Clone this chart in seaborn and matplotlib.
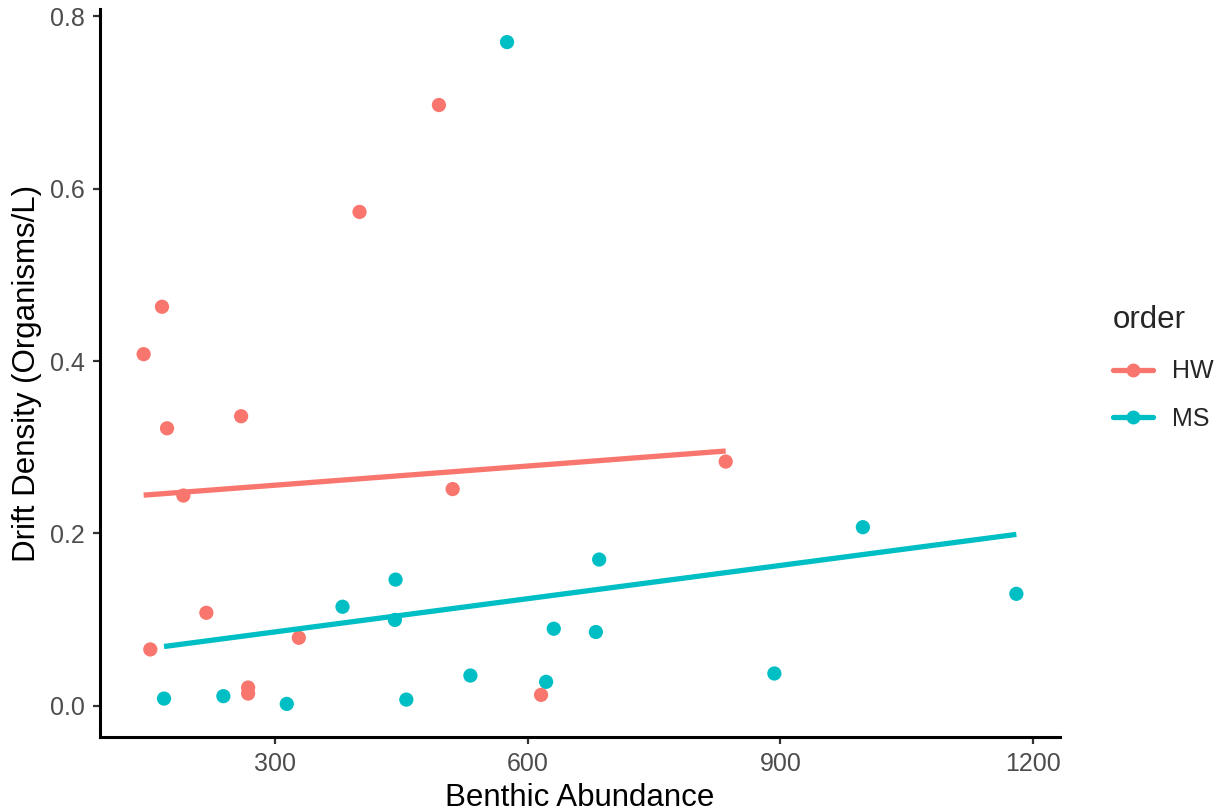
import numpy as np
import pandas as pd
import seaborn as sns
import matplotlib.pyplot as plt
from matplotlib.lines import Line2D

# Benthic abundance vs drift density, by order
hw_benthic = [143.8, 165.6, 171.6, 191.0, 218.3, 151.7, 259.6, 267.9, 267.9,
              328.1, 400.2, 494.5, 510.8, 615.8, 835.1]
hw_drift = [0.408, 0.463, 0.322, 0.244, 0.108, 0.0655, 0.336, 0.0213, 0.0143,
            0.079, 0.573, 0.697, 0.2515, 0.0128, 0.2834]
ms_benthic = [168.0, 238.5, 313.8, 380.0, 443.0, 442.2, 455.8, 531.9, 575.4,
              621.8, 630.9, 680.9, 684.8, 892.9, 998.0, 1180.3]
ms_drift = [0.0085, 0.0113, 0.0023, 0.115, 0.1465, 0.0997, 0.0073, 0.0352, 0.770,
            0.0279, 0.0895, 0.0857, 0.1698, 0.0376, 0.2073, 0.130]
orders = ["HW", "MS"]
order_colors = ["#F8766D", "#00BFC4"]
x_ticks = [300, 600, 900, 1200]
y_ticks = [0.0, 0.2, 0.4, 0.6, 0.8]

df = pd.DataFrame({
    "benthic": hw_benthic + ms_benthic,
    "drift": hw_drift + ms_drift,
    "order": ["HW"] * len(hw_benthic) + ["MS"] * len(ms_benthic),
})
palette = dict(zip(orders, order_colors))

sns.set_style("ticks")
plt.rcParams["font.family"] = ["Liberation Sans", "DejaVu Sans"]

W, H = 1223, 811
fig = plt.figure(figsize=(W / 100, H / 100), dpi=100)
ax = fig.add_axes([100 / W, (H - 737) / H, 960 / W, 728 / H])

sns.scatterplot(data=df, x="benthic", y="drift", hue="order", palette=palette,
                s=105, edgecolor="none", linewidth=0, legend=False, ax=ax, zorder=2)
for name in orders:
    sub = df[df["order"] == name]
    sns.regplot(data=sub, x="benthic", y="drift", scatter=False, ci=None,
                color=palette[name], line_kws={"lw": 3.8, "solid_capstyle": "butt",
                                               "zorder": 3}, ax=ax)

# 5% padding around the data range on both axes
xmin, xmax = df["benthic"].min(), df["benthic"].max()
ymin, ymax = df["drift"].min(), df["drift"].max()
xpad, ypad = 0.05 * (xmax - xmin), 0.05 * (ymax - ymin)
ax.set_xlim(xmin - xpad, xmax + xpad)
ax.set_ylim(ymin - ypad, ymax + ypad)

ax.set_xticks(x_ticks)
ax.set_xticklabels([str(t) for t in x_ticks])
ax.set_yticks(y_ticks)
ax.set_yticklabels([f"{t:.1f}" for t in y_ticks])

for side in ["top", "right"]:
    ax.spines[side].set_visible(False)
for side in ["left", "bottom"]:
    ax.spines[side].set_linewidth(2.2)
    ax.spines[side].set_color("black")
ax.tick_params(axis="both", length=5, width=1.6, color="#333333",
               labelsize=18, labelcolor="#4D4D4D", pad=6)

ax.set_xlabel("Benthic Abundance", fontsize=22.5, color="black", labelpad=5)
ax.set_ylabel("Drift Density (Organisms/L)", fontsize=22.5, color="black", labelpad=6)

handles = [Line2D([0], [0], color=palette[n], lw=3.8, marker="o", markersize=10,
                  markeredgewidth=0) for n in orders]
leg = fig.legend(handles, orders, title="order", loc="upper left",
                 bbox_to_anchor=(1100 / W, 1 - 293 / H), frameon=False,
                 fontsize=18, title_fontsize=22.5, handlelength=1.6,
                 handletextpad=0.8, labelspacing=0.95, borderpad=0)
leg._legend_box.align = "left"

fig.savefig("out.png", dpi=100, facecolor="white")
